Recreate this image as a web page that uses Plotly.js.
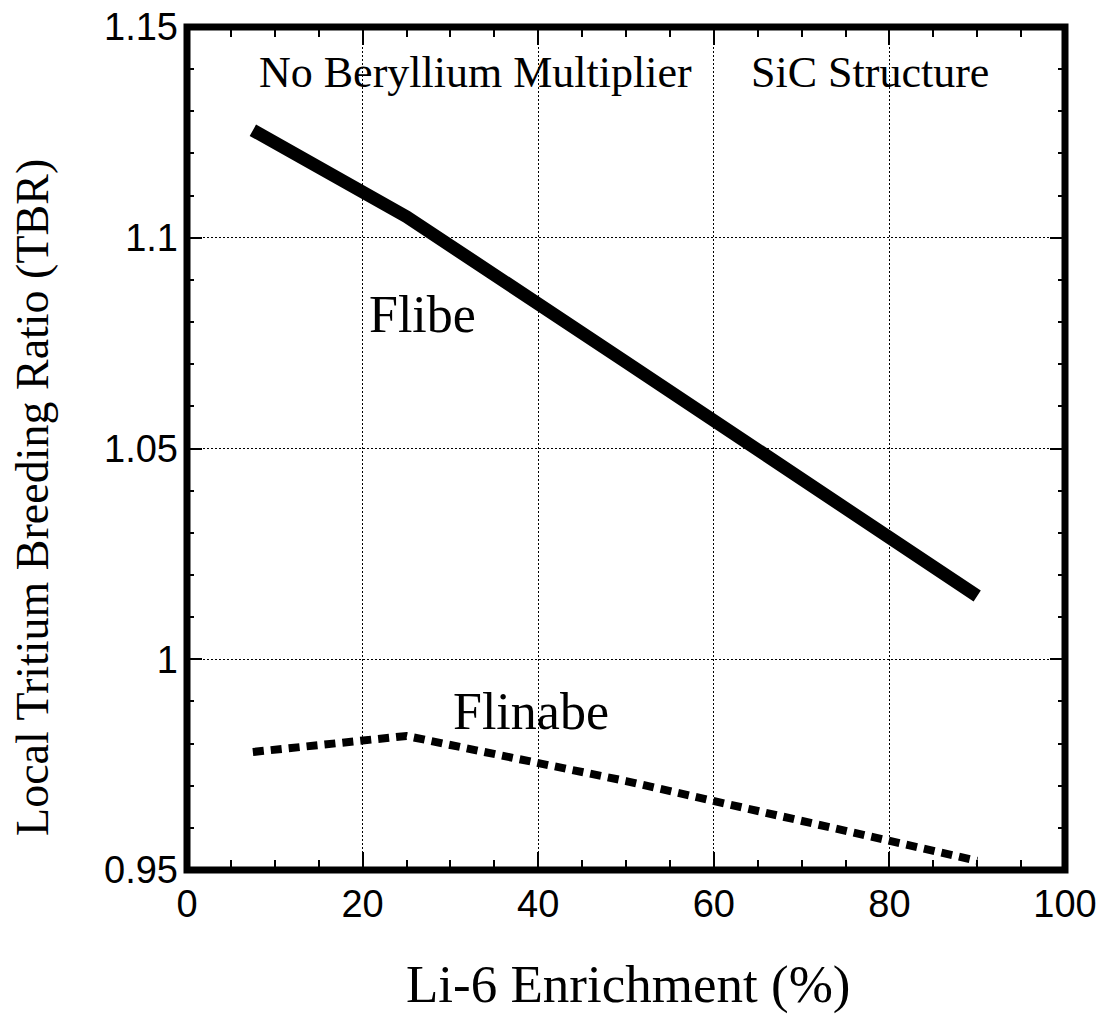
<!DOCTYPE html>
<html>
<head>
<meta charset="utf-8">
<script src="https://cdn.plot.ly/plotly-3.0.1.min.js"></script>
<style>html,body{margin:0;padding:0;background:#fff;}#chart{width:1104px;height:1016px;}</style>
</head>
<body>
<div id="chart"></div>
<script>
// Data
const enrichment = [7.5, 25, 50, 75, 90];
const flibeTBR = [1.1255, 1.105, 1.0705, 1.0355, 1.015];
const flinabeTBR = [0.978, 0.9818, 0.9711, 0.959, 0.9522];

const xTickVals = [0, 20, 40, 60, 80, 100];
const xTickText = ['0', '20', '40', '60', '80', '100'];
const yTickVals = [0.95, 1.0, 1.05, 1.1, 1.15];
const yTickText = ['0.95', '1', '1.05', '1.1', '1.15'];

const serif = 'Liberation Serif, Times New Roman, serif';
const sans = 'Liberation Sans, Arial, sans-serif';

const traces = [
  {x: enrichment, y: flibeTBR, mode: 'lines', name: 'Flibe',
   line: {color: '#000', width: 13}, hoverinfo: 'skip'},
  {x: enrichment, y: flinabeTBR, mode: 'lines', name: 'Flinabe',
   line: {color: '#000', width: 8, dash: '11px,7px'}, hoverinfo: 'skip'}
];

const layout = {
  width: 1104, height: 1016,
  margin: {l: 187, r: 39, t: 27, b: 146, pad: 0},
  paper_bgcolor: '#fff', plot_bgcolor: '#fff',
  showlegend: false,
  xaxis: {
    range: [0, 100], tickvals: xTickVals, ticktext: xTickText,
    ticks: 'inside', ticklen: 18, tickwidth: 2, tickcolor: '#000',
    mirror: 'allticks', showline: false, zeroline: false,
    showgrid: true, gridcolor: '#000', gridwidth: 1, griddash: '2px,2px',
    tickfont: {family: sans, size: 38, color: '#000'},
    ticklabelstandoff: 8,
    minor: {dtick: 5, tick0: 0, ticks: 'inside', ticklen: 10, tickwidth: 2, tickcolor: '#000', showgrid: false},
    fixedrange: true
  },
  yaxis: {
    range: [0.95, 1.15], tickvals: yTickVals, ticktext: yTickText,
    ticks: 'inside', ticklen: 15, tickwidth: 2, tickcolor: '#000',
    mirror: 'allticks', showline: false, zeroline: false,
    showgrid: true, gridcolor: '#000', gridwidth: 1, griddash: '2px,2px',
    tickfont: {family: sans, size: 38, color: '#000'},
    ticklabelstandoff: 8,
    minor: {dtick: 0.01, tick0: 0.95, ticks: 'inside', ticklen: 7, tickwidth: 2, tickcolor: '#000', showgrid: false},
    fixedrange: true
  },
  shapes: [
    {type: 'rect', xref: 'paper', yref: 'paper', x0: 0, x1: 1, y0: 0, y1: 1,
     line: {color: '#000', width: 7}, fillcolor: 'rgba(0,0,0,0)', layer: 'above'}
  ],
  annotations: [
    {text: 'No Beryllium Multiplier', xref: 'x', yref: 'y', x: 32.9, y: 1.1393,
     showarrow: false, xanchor: 'center', yanchor: 'middle', font: {family: serif, size: 44, color: '#000'}},
    {text: 'SiC Structure', xref: 'x', yref: 'y', x: 77.8, y: 1.1393,
     showarrow: false, xanchor: 'center', yanchor: 'middle', font: {family: serif, size: 44, color: '#000'}},
    {text: 'Flibe', xref: 'x', yref: 'y', x: 26.8, y: 1.0819,
     showarrow: false, xanchor: 'center', yanchor: 'middle', font: {family: serif, size: 52, color: '#000'}},
    {text: 'Flinabe', xref: 'x', yref: 'y', x: 39.2, y: 0.9875,
     showarrow: false, xanchor: 'center', yanchor: 'middle', font: {family: serif, size: 52, color: '#000'}},
    {text: 'Li-6 Enrichment (%)', xref: 'paper', yref: 'paper', x: 0.502, y: -0.1364,
     showarrow: false, xanchor: 'center', yanchor: 'middle', font: {family: serif, size: 53, color: '#000'}},
    {text: 'Local Tritium Breeding Ratio (TBR)', xref: 'paper', yref: 'paper', x: -0.1754, y: 0.4425,
     textangle: -90, showarrow: false, xanchor: 'center', yanchor: 'middle', font: {family: serif, size: 46, color: '#000'}}
  ]
};

Plotly.newPlot('chart', traces, layout, {staticPlot: true, displayModeBar: false});
</script>
</body>
</html>
